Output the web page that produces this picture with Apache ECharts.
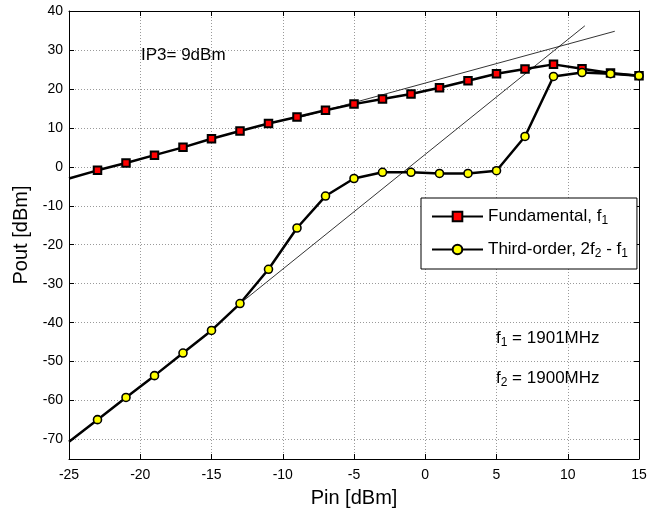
<!DOCTYPE html>
<html>
<head>
<meta charset="utf-8">
<script src="https://cdn.jsdelivr.net/npm/echarts@6/dist/echarts.min.js"></script>
<style>
html,body{margin:0;padding:0;background:#fff;}
#chart{width:665px;height:513px;}
</style>
</head>
<body>
<div id="chart"></div>
<script>
// Input power (dBm)
const pin = [-25,-23,-21,-19,-17,-15,-13,-11,-9,-7,-5,-3,-1,1,3,5,7,9,11,13,15];
// Fundamental output (dBm)
const fundamental = [-3.0,-0.9,1.0,3.0,5.0,7.2,9.2,11.1,12.8,14.5,16.1,17.4,18.7,20.3,22.1,23.9,25.1,26.3,25.2,24.1,23.4];
// Third-order intermod output (dBm)
const thirdOrder = [-70.6,-64.9,-59.2,-53.6,-47.8,-42.0,-35.1,-26.3,-15.7,-7.5,-3.0,-1.4,-1.4,-1.7,-1.7,-1.0,7.8,23.2,24.2,23.9,23.4];
// Extrapolation lines [x, y]
const fundExtrap = [[-9, 12.5], [13.3, 34.8]];
const thirdExtrap = [[-13, -35.1], [11.2, 36.2]];
// Axis ticks
const xTicks = [-25,-20,-15,-10,-5,0,5,10,15];
const yTicks = [-70,-60,-50,-40,-30,-20,-10,0,10,20,30,40];

const FONT = 'Liberation Sans, Arial, Helvetica, sans-serif';

function mk(ys) {
  return pin.map((x, i) => i === 0 ? { value: [x, ys[i]], symbol: 'none' } : [x, ys[i]]);
}

const chart = echarts.init(document.getElementById('chart'), null, { renderer: 'canvas' });

const gridLine = { show: true, lineStyle: { color: '#9a9a9a', type: [1, 2], width: 1 } };
const tick = { show: true, inside: true, length: 5, lineStyle: { color: '#000', width: 1 } };
const axLine = { show: true, onZero: false, lineStyle: { color: '#000', width: 1 } };
const subRich = {
  t: { fontSize: 17, fontFamily: FONT, color: '#000', fill: '#000', lineHeight: 21 },
  s: { fontSize: 12, fontFamily: FONT, color: '#000', fill: '#000', verticalAlign: 'bottom', lineHeight: 12 }
};

const option = {
  animation: false,
  backgroundColor: '#fff',
  grid: { left: 69, right: 26, top: 11, bottom: 54, containLabel: false },
  xAxis: [
    {
      type: 'value', position: 'bottom', min: -25, max: 15, interval: 5,
      axisLine: axLine, axisTick: tick, splitLine: gridLine,
      axisLabel: { color: '#000', fontSize: 14, fontFamily: FONT, margin: 9 },
      name: 'Pin [dBm]', nameLocation: 'middle', nameGap: 29,
      nameTextStyle: { color: '#000', fontSize: 20, fontFamily: FONT }
    },
    {
      type: 'value', position: 'top', min: -25, max: 15, interval: 5,
      axisLine: axLine, axisTick: tick, splitLine: { show: false },
      axisLabel: { show: false }
    }
  ],
  yAxis: [
    {
      type: 'value', position: 'left', min: -75, max: 40,
      axisLine: axLine,
      axisTick: Object.assign({}, tick, { customValues: yTicks }),
      splitLine: gridLine,
      axisLabel: { color: '#000', fontSize: 14, fontFamily: FONT, margin: 6, customValues: yTicks },
      name: 'Pout [dBm]', nameLocation: 'middle', nameGap: 37, nameRotate: 90,
      nameTextStyle: { color: '#000', fontSize: 20, fontFamily: FONT }
    },
    {
      type: 'value', position: 'right', min: -75, max: 40,
      axisLine: axLine,
      axisTick: Object.assign({}, tick, { customValues: yTicks }),
      splitLine: { show: false },
      axisLabel: { show: false, customValues: yTicks }
    }
  ],
  legend: {
    orient: 'vertical', left: 421, top: 198,
    data: ['Fundamental', 'Third-order'],
    backgroundColor: '#fff', borderColor: '#000', borderWidth: 1, borderRadius: 0,
    padding: [10, 9, 9, 10],
    itemWidth: 51, itemHeight: 12, itemGap: 14,
    formatter: function (n) {
      return n === 'Fundamental' ? '{t|Fundamental, f}{s|1}' : '{t|Third-order, 2f}{s|2}{t| - f}{s|1}';
    },
    textStyle: { color: '#000', fontFamily: FONT, fontSize: 17, rich: subRich }
  },
  series: [
    {
      name: 'fundExtrap', type: 'line', data: fundExtrap, showSymbol: false, symbol: 'none',
      lineStyle: { color: '#000', width: 0.8 }, z: 1, silent: true
    },
    {
      name: 'thirdExtrap', type: 'line', data: thirdExtrap, showSymbol: false, symbol: 'none',
      lineStyle: { color: '#000', width: 0.8 }, z: 1, silent: true
    },
    {
      name: 'Fundamental', type: 'line', data: mk(fundamental),
      symbol: 'rect', symbolSize: 7.5,
      itemStyle: { color: '#ff0000', borderColor: '#000', borderWidth: 2 },
      lineStyle: { color: '#000', width: 2.5 }, z: 3
    },
    {
      name: 'Third-order', type: 'line', data: mk(thirdOrder),
      symbol: 'circle', symbolSize: 8,
      itemStyle: { color: '#ffff00', borderColor: '#000', borderWidth: 1.6 },
      lineStyle: { color: '#000', width: 2.5 }, z: 3
    }
  ],
  graphic: [
    {
      type: 'text', left: 141, top: 47,
      style: { text: 'IP3= 9dBm', fill: '#000', font: '17px ' + FONT }
    },
    {
      type: 'text', left: 496, top: 330,
      style: { text: '{t|f}{s|1}{t| = 1901MHz}', fill: '#000', font: '17px ' + FONT, rich: subRich }
    },
    {
      type: 'text', left: 496, top: 370,
      style: { text: '{t|f}{s|2}{t| = 1900MHz}', fill: '#000', font: '17px ' + FONT, rich: subRich }
    }
  ]
};
chart.setOption(option);
</script>
</body>
</html>
